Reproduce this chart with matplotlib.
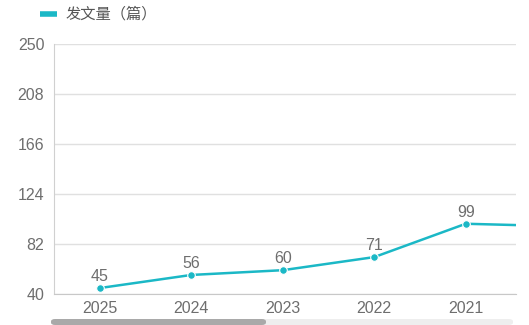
import matplotlib
matplotlib.use("Agg")
import matplotlib.pyplot as plt
from matplotlib.patches import FancyBboxPatch
from matplotlib.lines import Line2D

plt.rcParams['font.family'] = ['Liberation Sans', 'Noto Sans CJK SC', 'DejaVu Sans']

years = ["2025", "2024", "2023", "2022", "2021", "2020"]
counts = [45, 56, 60, 71, 99, 97]
y_ticks = [40, 82, 124, 166, 208, 250]
series_name = "发文量（篇）"

line_color = "#1bb8c6"
text_color = "#6e6e6e"
grid_color = "#e0e0e0"

W, H = 529, 325
fig = plt.figure(figsize=(W / 100, H / 100), dpi=100)
ax = fig.add_axes([54 / W, 31 / H, (516 - 54) / W, (294 - 44) / H])

x = list(range(len(years)))
ax.plot(x, counts, color=line_color, lw=1.8, marker="o", ms=5.5,
        markerfacecolor=line_color, markeredgecolor="white", markeredgewidth=0.8,
        zorder=3, clip_on=True)
for xi, v in zip(x, counts):
    ax.annotate(str(v), (xi, v), xytext=(0, 3), textcoords="offset points",
                ha="center", va="bottom", fontsize=11.5, color=text_color,
                annotation_clip=True)

ax.set_xlim(-0.5, -0.5 + (516 - 54) / 91.5)
ax.set_ylim(40, 250)
ax.set_yticks(y_ticks)
ax.set_yticklabels([str(t) for t in y_ticks])
ax.set_xticks(x[:5])
ax.set_xticklabels(years[:5])
ax.tick_params(axis="both", length=0, labelsize=11.5, labelcolor=text_color)
ax.tick_params(axis="y", pad=7)
ax.tick_params(axis="x", pad=5)
ax.grid(axis="y", color=grid_color, lw=1)
ax.set_axisbelow(True)
for s in ["top", "right"]:
    ax.spines[s].set_visible(False)
ax.spines["left"].set_color("#d0d0d0")
ax.spines["bottom"].set_color("#c8c8c8")

# legend
fig.add_artist(Line2D([40 / W, 57 / W], [1 - 14 / H, 1 - 14 / H], color=line_color,
                      lw=4, solid_capstyle="butt"))
fig.text(66 / W, 1 - 14 / H, series_name, fontsize=11, color="#555555", va="center", ha="left")

# scrollbar
fig.add_artist(FancyBboxPatch((51 / W, 1 - 325 / H), (513 - 51) / W, 6 / H,
                              boxstyle="round,pad=0,rounding_size=0.008",
                              fc="#eeeeee", ec="none", transform=fig.transFigure))
fig.add_artist(FancyBboxPatch((51 / W, 1 - 325 / H), (266 - 51) / W, 6 / H,
                              boxstyle="round,pad=0,rounding_size=0.008",
                              fc="#a9a9a9", ec="none", transform=fig.transFigure))

fig.savefig("out.png", dpi=100)
